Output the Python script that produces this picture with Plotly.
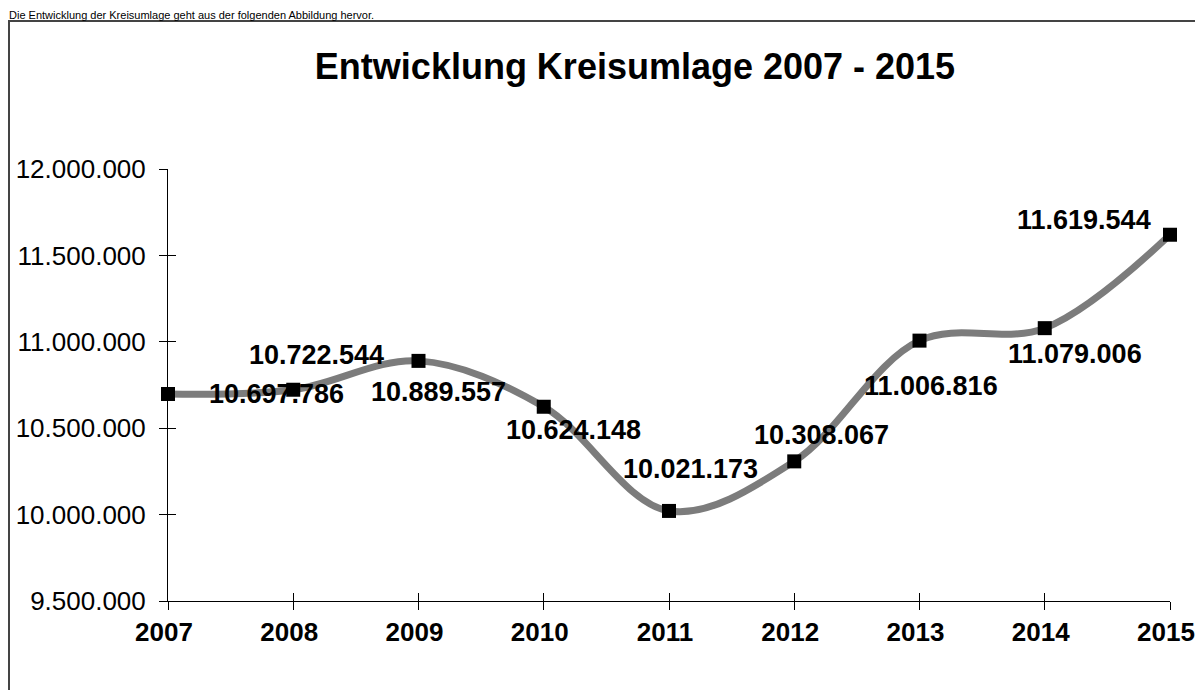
import plotly.graph_objects as go

years = [2007, 2008, 2009, 2010, 2011, 2012, 2013, 2014, 2015]
umlage = [10697786, 10722544, 10889557, 10624148, 10021173, 10308067, 11006816, 11079006, 11619544]

# label offsets in px (manually placed labels in the original)
label_dx = [108, 23, 20, 30, 21, 27, 11, 30, -86]
label_dy = [0, 35, -31, -23, 42, 26, -45, -26, 15]

y_ticks = [9500000, 10000000, 10500000, 11000000, 11500000, 12000000]

fnt = "Liberation Sans, Arial, sans-serif"

# page body adds 8px, so the figure is smaller than the window
W, H = 1195, 682
L, R, T, B = 160, 33, 161, 89
pw, ph = W - L - R, H - T - B

fig = go.Figure()
fig.add_trace(go.Scatter(
    x=years, y=umlage, mode="lines+markers",
    line=dict(color="#7c7c7c", width=7, shape="spline", smoothing=1.0),
    marker=dict(symbol="square", size=14, color="black"),
    cliponaxis=False, showlegend=False, hoverinfo="x+y"))

for yr, v, dx, dy in zip(years, umlage, label_dx, label_dy):
    fig.add_annotation(x=yr, y=v, text=f"{v:,}".replace(",", "."),
                       showarrow=False, xshift=dx, yshift=dy,
                       font=dict(family=fnt, size=27, color="black", weight="bold"))

# page text above the chart
fig.add_annotation(x=-L / pw, y=(ph + T) / ph, xref="paper", yref="paper",
                   xanchor="left", yanchor="top", showarrow=False, borderpad=0,
                   text="Die Entwicklung der Kreisumlage geht aus der folgenden Abbildung hervor.",
                   font=dict(family=fnt, size=11, color="black"))

# chart frame
fig.add_shape(type="rect", xref="paper", yref="paper",
              x0=(1 - L) / pw, x1=1.2, y0=-0.5, y1=(ph + T - 13) / ph,
              line=dict(color="#444", width=2))

fig.update_layout(
    width=W, height=H,
    margin=dict(l=L, r=R, t=T, b=B, autoexpand=False),
    paper_bgcolor="white", plot_bgcolor="white",
    separators=",.",
    title=dict(text="<b>Entwicklung Kreisumlage 2007 - 2015</b>", x=627 / W,
               xanchor="center", y=1 - 58 / H, yanchor="middle",
               font=dict(family=fnt, size=36, color="black")),
    xaxis=dict(range=[years[0], years[-1]], tickvals=years, ticktext=[str(y) for y in years],
               showgrid=False, zeroline=False, showline=True, linecolor="black", linewidth=1,
               ticks="outside", ticklen=8, tickcolor="black", automargin=False,
               ticklabelstandoff=0, ticklabelshift=-4,
               tickfont=dict(family=fnt, size=26, color="black", weight="bold")),
    yaxis=dict(range=[y_ticks[0], y_ticks[-1]], tickvals=y_ticks, tickformat=",d",
               showgrid=False, zeroline=False, showline=True, linecolor="black", linewidth=1,
               ticks="outside", ticklen=8, tickcolor="black", automargin=False,
               ticklabelstandoff=8,
               tickfont=dict(family=fnt, size=26, color="black")),
    xaxis2=dict(overlaying="x", range=[years[0], years[-1]], tickvals=years, showticklabels=False,
                ticks="inside", ticklen=8, tickcolor="black", showgrid=False, zeroline=False),
    yaxis2=dict(overlaying="y", range=[y_ticks[0], y_ticks[-1]], tickvals=y_ticks, showticklabels=False,
                ticks="inside", ticklen=8, tickcolor="black", showgrid=False, zeroline=False),
)
# invisible trace to bring the overlay axes to life
fig.add_trace(go.Scatter(x=[years[0]], y=[y_ticks[0]], xaxis="x2", yaxis="y2",
                         mode="markers", marker=dict(opacity=0), showlegend=False, hoverinfo="skip"))

fig.write_html("out.html")
